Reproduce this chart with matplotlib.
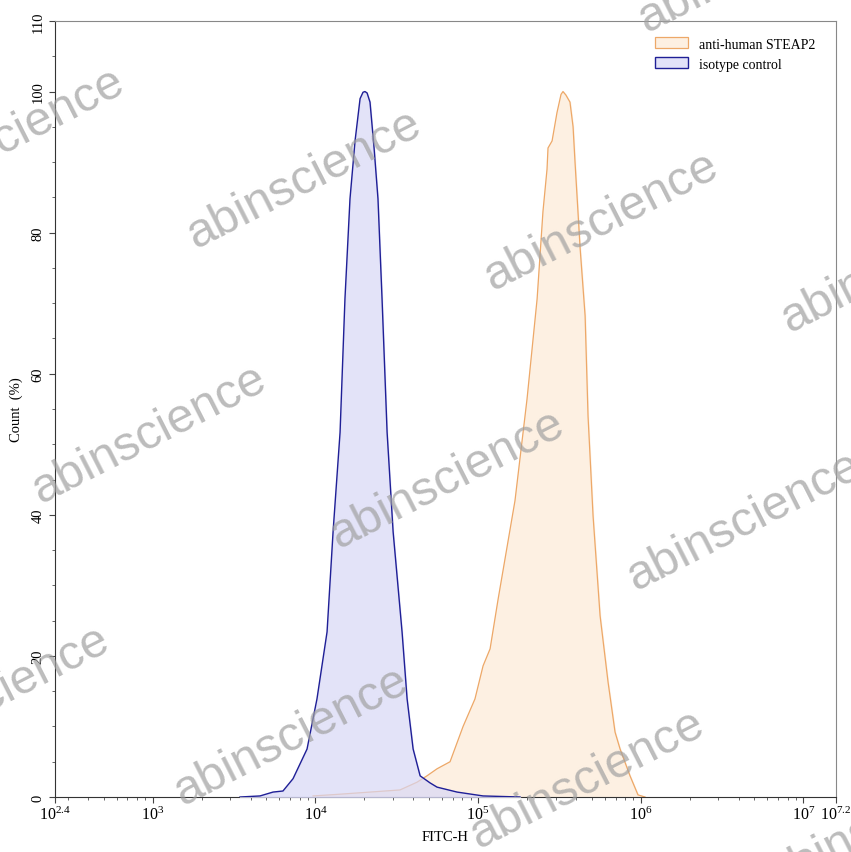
import numpy as np
import matplotlib
matplotlib.use("Agg")
import matplotlib.pyplot as plt
from matplotlib.patches import Patch
from matplotlib.ticker import MultipleLocator, LogLocator, NullFormatter

plt.rcParams['font.family'] = ['Liberation Serif', 'DejaVu Serif']
plt.rcParams['mathtext.fontset'] = 'custom'
plt.rcParams['mathtext.rm'] = 'Liberation Serif'

# isotype control (log10 of FITC-H, count %)
iso_log = [3.537, 3.660, 3.740, 3.801, 3.863, 3.949, 4.010, 4.072, 4.109, 4.152,
           4.182, 4.213, 4.244, 4.275, 4.293, 4.305, 4.318, 4.336, 4.361, 4.385,
           4.410, 4.441, 4.478, 4.533, 4.564, 4.601, 4.644, 4.705, 4.748, 4.871,
           5.031, 5.258]
iso_cnt = [0, 0.15, 0.7, 0.85, 2.6, 6.8, 13.9, 23.4, 37.6, 51.7,
           70.6, 84.8, 93, 99, 99.9, 100, 99.8, 98.5, 92, 84.8,
           70.6, 51.7, 37.6, 23.4, 13.9, 6.8, 3, 2, 1.4, 0.7,
           0.15, 0]

# anti-human STEAP2
steap_log = [3.986, 4.152, 4.336, 4.520, 4.625, 4.686, 4.748, 4.828, 4.908, 4.981,
             5.031, 5.074, 5.123, 5.227, 5.301, 5.363, 5.399, 5.424, 5.430, 5.455,
             5.485, 5.510, 5.522, 5.540, 5.565, 5.584, 5.596, 5.614, 5.627, 5.658,
             5.676, 5.707, 5.750, 5.799, 5.842, 5.873, 5.934, 5.983, 6.026]
steap_cnt = [0.15, 0.4, 0.7, 1.0, 2.1, 3, 4, 5, 10, 13.9,
             18.6, 21, 28, 42, 56.4, 70.6, 83, 89, 92, 93,
             97, 99.6, 100, 99.5, 98.5, 95, 90, 83, 77.9, 68.2,
             54, 39.8, 25.7, 16.3, 9.2, 6.8, 3, 0.3, 0]

xtick_pos = [10**2.4, 1e3, 1e4, 1e5, 1e6, 1e7, 10**7.2]
xtick_lab = [r'$\mathrm{10^{2.4}}$', r'$\mathrm{10^{3}}$', r'$\mathrm{10^{4}}$', r'$\mathrm{10^{5}}$',
             r'$\mathrm{10^{6}}$', r'$\mathrm{10^{7}}$', r'$\mathrm{10^{7.2}}$']
ytick_pos = [0, 20, 40, 60, 80, 100, 110]

W, H = 851, 853
fig = plt.figure(figsize=(W / 100, H / 100), dpi=100)
ax = fig.add_axes([55 / W, 55 / H, (836 - 55) / W, (798 - 22) / H])

sx = 10 ** np.array(steap_log)
ix = 10 ** np.array(iso_log)
ax.fill_between(sx, steap_cnt, color='#fdf0e2', zorder=1)
ax.plot(sx, steap_cnt, color='#eda868', lw=0.9, zorder=2)
ax.fill_between(ix, iso_cnt, color='#d8d8f6', alpha=0.7, zorder=3)
ax.plot(ix, iso_cnt, color='#1f1f96', lw=1.0, zorder=4)

ax.set_xscale('log')
ax.set_xlim(10**2.4, 10**7.2)
ax.set_ylim(0, 110)
ax.set_xticks(xtick_pos)
ax.set_xticklabels(xtick_lab, fontsize=11.5)
ax.xaxis.set_minor_locator(LogLocator(base=10, subs=np.arange(2, 10)))
ax.xaxis.set_minor_formatter(NullFormatter())
ax.set_yticks(ytick_pos)
ax.set_yticklabels([str(v) for v in ytick_pos], rotation=90, va='center', fontsize=10.5)
ax.yaxis.set_minor_locator(MultipleLocator(5))
ax.tick_params(which='major', length=4, width=0.8, color='#444444')
ax.tick_params(which='minor', length=2.5, width=0.7, color='#666666')
ax.tick_params(axis='x', which='major', pad=2)
for s in ['top', 'right']:
    ax.spines[s].set_color('#888888')
for s in ['left', 'bottom']:
    ax.spines[s].set_color('#333333')

ax.set_xlabel('FITC-H', fontsize=10.5, labelpad=5)
ax.set_ylabel('Count  (%)', fontsize=10.5, labelpad=6)

handles = [Patch(facecolor='#fdf0e2', edgecolor='#eda868', lw=0.9),
           Patch(facecolor='#e2e2f8', edgecolor='#1f1f96', lw=1.0)]
ax.legend(handles, ['anti-human STEAP2', 'isotype control'], loc='upper right',
          frameon=False, fontsize=10, handlelength=2.4, handleheight=0.8,
          bbox_to_anchor=(0.99, 0.995))

# watermark
marks = [(8, 138), (305, 180), (756, -36), (602, 222), (899, 264), (150, 435),
         (448, 480), (745, 522), (-7, 696), (292, 737), (588, 780), (885, 822)]
for (px, py) in marks:
    fig.text(px / W, 1 - py / H, 'abinscience', family='Liberation Sans', fontsize=35,
             color='#a0a0a0', alpha=0.7, rotation=27, ha='center', va='center',
             rotation_mode='anchor', zorder=10)

fig.savefig('out.png', dpi=100)
